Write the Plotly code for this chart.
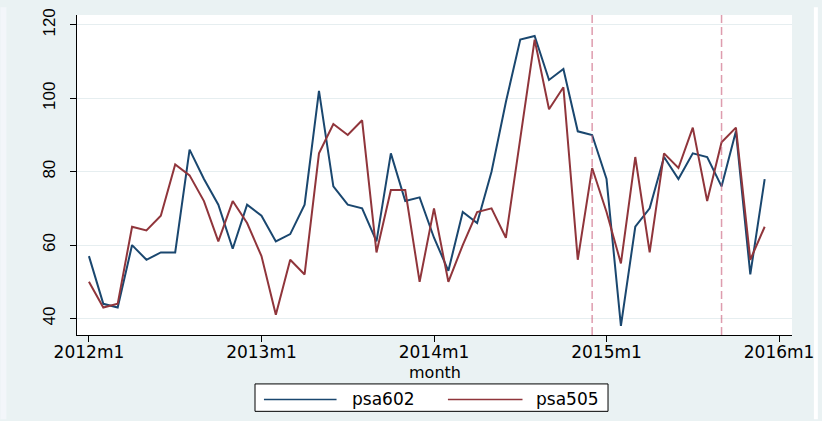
import plotly.graph_objects as go

# Monthly series, 2012m1 .. 2015m12
years = [2012, 2013, 2014, 2015]
months = [f"{y}m{m}" for y in years for m in range(1, 13)]
month_idx = list(range(len(months)))

psa602 = [57, 44, 43, 60, 56, 58, 58, 86, 78, 71, 59, 71,
          68, 61, 63, 71, 102, 76, 71, 70, 61, 85, 72, 73,
          62, 53, 69, 66, 80, 99, 116, 117, 105, 108, 91, 90,
          78, 38, 65, 70, 84, 78, 85, 84, 76, 91, 52, 78]
psa505 = [50, 43, 44, 65, 64, 68, 82, 79, 72, 61, 72, 66,
          57, 41, 56, 52, 85, 93, 90, 94, 58, 75, 75, 50,
          70, 50, 60, 69, 70, 62, 89, 116, 97, 103, 56, 81,
          69, 55, 84, 58, 85, 81, 92, 72, 88, 92, 56, 65]

# Reference months marked with dashed lines
event_months = ["2014m12", "2015m9"]

x_tick_vals = [0, 12, 24, 36, 48]
x_tick_text = ["2012m1", "2013m1", "2014m1", "2015m1", "2016m1"]
y_tick_vals = [40, 60, 80, 100, 120]

NAVY = "#1a476f"
MAROON = "#90353b"
BG = "#eaf2f3"

W, H = 822, 421
ML, MR, MT, MB = 77, 26, 8, 86
PW, PH = W - ML - MR, H - MT - MB


def px_x(x):
    return (x - ML) / PW


def px_y(y):
    return (H - MB - y) / PH


fig = go.Figure()
fig.add_trace(go.Scatter(x=month_idx, y=psa602, mode="lines", name="psa602",
                         line=dict(color=NAVY, width=2)))
fig.add_trace(go.Scatter(x=month_idx, y=psa505, mode="lines", name="psa505",
                         line=dict(color=MAROON, width=2)))

shapes = []
for m in event_months:
    xi = months.index(m)
    shapes.append(dict(type="line", xref="x", yref="paper", x0=xi, x1=xi,
                       y0=0, y1=1, layer="above",
                       line=dict(color="rgba(200,90,120,0.6)", width=1.5,
                                 dash="8px,4px")))

# side strips of the page
shapes.append(dict(type="rect", xref="paper", yref="paper",
                   x0=px_x(0), x1=px_x(6), y0=px_y(H), y1=px_y(0),
                   fillcolor="#f3f6fa", line=dict(width=0), layer="below"))
shapes.append(dict(type="rect", xref="paper", yref="paper",
                   x0=px_x(818), x1=px_x(W), y0=px_y(H), y1=px_y(0),
                   fillcolor="#ffffff", line=dict(width=0), layer="below"))

# legend box drawn by hand
shapes.append(dict(type="rect", xref="paper", yref="paper",
                   x0=px_x(256), x1=px_x(611), y0=px_y(413), y1=px_y(385),
                   fillcolor="white", line=dict(color="black", width=1)))
shapes.append(dict(type="line", xref="paper", yref="paper",
                   x0=px_x(265), x1=px_x(338), y0=px_y(401), y1=px_y(401),
                   line=dict(color=NAVY, width=1.5)))
shapes.append(dict(type="line", xref="paper", yref="paper",
                   x0=px_x(450), x1=px_x(525), y0=px_y(401), y1=px_y(401),
                   line=dict(color=MAROON, width=1.5)))

text_font = dict(family="DejaVu Sans", size=17, color="black")
annotations = [
    dict(text="psa602", xref="paper", yref="paper", x=px_x(352), y=px_y(400),
         xanchor="left", yanchor="middle", showarrow=False, font=text_font),
    dict(text="psa505", xref="paper", yref="paper", x=px_x(537), y=px_y(400),
         xanchor="left", yanchor="middle", showarrow=False, font=text_font),
    # x-axis title, set tight under the tick labels
    dict(text="month", xref="paper", yref="paper", x=0.5, y=px_y(373),
         xanchor="center", yanchor="middle", showarrow=False,
         font=dict(family="DejaVu Sans", size=16, color="black")),
]

fig.update_layout(
    width=W, height=H,
    margin=dict(l=ML, r=MR, t=MT, b=MB),
    paper_bgcolor=BG, plot_bgcolor="white",
    showlegend=False,
    shapes=shapes, annotations=annotations,
    xaxis=dict(range=[-0.83, 48.9], tickmode="array", tickvals=x_tick_vals,
               ticktext=x_tick_text, showgrid=False, zeroline=False,
               showline=True, linecolor="black", linewidth=1,
               ticks="outside", ticklen=6, tickcolor="black",
               ticklabelstandoff=-4,
               tickfont=text_font),
    yaxis=dict(range=[35.5, 122.7], tickmode="array", tickvals=y_tick_vals,
               showgrid=True, gridcolor="#e6eef0", gridwidth=1, zeroline=False,
               showline=True, linecolor="black", linewidth=1,
               ticks="outside", ticklen=6, tickcolor="black", tickangle=-90,
               ticklabelstandoff=8,
               tickfont=dict(family="Liberation Sans", size=17, color="black")),
)

fig.write_html("out.html")
